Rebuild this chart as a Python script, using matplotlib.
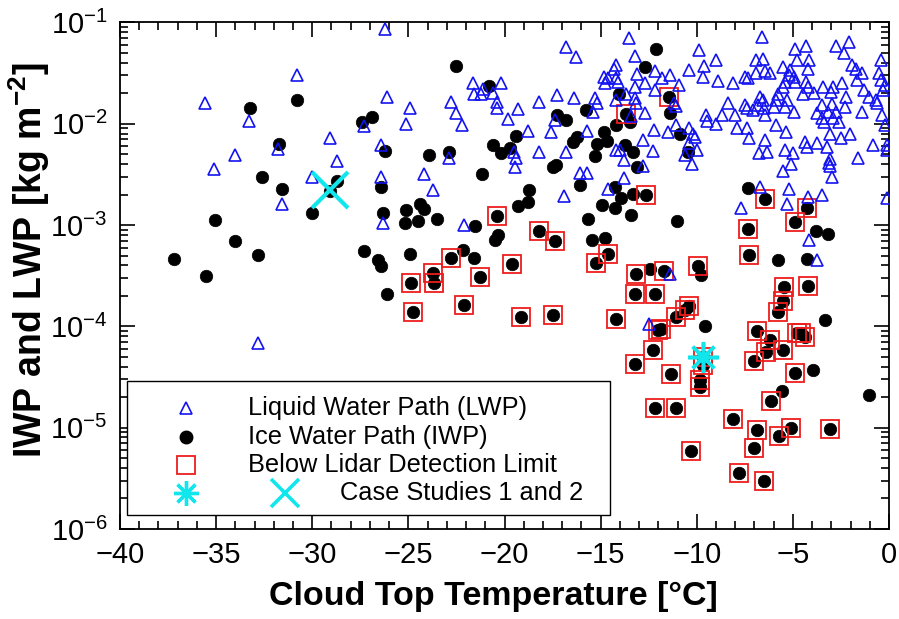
import matplotlib
matplotlib.use("Agg")
import matplotlib.pyplot as plt
from matplotlib.patches import Rectangle
from matplotlib.ticker import MultipleLocator, LogLocator, NullFormatter

# ---------------- data ----------------
# Liquid water path: cloud top temperature [degC] and LWP [kg m^-2]
lwp_temp = [
    -35.6, -30.8, -33.3, -34.0, -35.1, -31.8, -30.0, -31.6, -32.8,
    -26.2, -26.1, -24.9, -25.1, -27.3, -29.1, -26.4, -28.7, -26.4, -24.2,
    -23.7, -26.3, -22.1, -22.9, -22.8, -22.5, -22.2, -21.65, -21.6, -21.2,
    -21.1, -20.6, -20.2, -20.4, -20.4, -19.8,
    -13.5, -16.8, -16.3, -13.2, -9.9, -14.2, -14.3, -10.4, -13.1, -12.15,
    -14.8, -14.6, -14.2, -14.75, -14.1, -12.7, -13.2, -11.8, -11.4, -12.15,
    -10.9, -17.25, -16.4, -18.2, -15.3, -15.2, -14.2, -13.7, -13.2, -13.15,
    -11.2, -11.1, -19.3, -15.4, -13.4, -12.7, -17.4, -18.8, -17.6, -15.7,
    -12.2, -11.5, -11.1, -10.4, -10.1, -12.8, -10.4, -19.5, -19.4, -19.45,
    -18.2, -16.8, -14.2, -14.0, -13.8, -12.3, -10.6, -10.25, -10.0, -12.8,
    -16.05, -15.7, -13.8, -14.6, -16.9, -11.4, -12.5,
    -6.6, -9.0, -9.6, -9.7, -8.9, -8.1, -7.5, -7.35, -6.9, -6.55,
    -6.9, -6.45, -6.2, -5.5, -4.9, -4.3, -4.8, -4.15, -5.15, -4.2,
    -4.95, -5.2, -5.4, -4.9, -4.3, -2.75, -2.1, -2.35, -1.95, -1.7,
    -1.4, -1.65, -0.4, -0.5, -0.4, -0.2, -5.5, -5.75, -4.2, -4.5,
    -3.9, -3.45, -2.9, -3.0, -2.45, -2.25, -1.3, -1.05, -0.7, -0.6,
    -0.3, -6.7, -6.55, -6.8, -5.9, -5.3, -8.4, -7.5, -7.4, -7.05,
    -6.5, -6.0, -5.4, -4.95, -3.5, -2.95, -3.75, -3.2, -2.75, -2.3,
    -1.4, -3.5, -2.9, -2.6, -3.4, -9.5, -9.45, -8.7, -8.0, -9.0,
    -7.9, -7.4, -6.45, -5.9, -5.35, -3.05, -2.05, -2.5, -0.35, -0.2,
    -7.3, -6.45, -10.2, -6.35, -6.75, -5.4, -5.0, -4.35, -4.25, -3.75,
    -3.25, -0.85, -0.1, -0.1, -1.6, -3.05, -3.1, -3.05, -5.1, -5.5,
    -2.95, -6.7, -5.2, -4.2, -3.5, -5.3, -7.7, -0.1, -4.15, -3.75,
]
lwp_value = [
    1.6e-2, 3.0e-2, 1.06e-2, 4.9e-3, 3.6e-3, 5.6e-3, 3.0e-3, 1.6e-3, 6.8e-5,
    8.7e-2, 1.85e-2, 1.44e-2, 9.9e-3, 9.5e-3, 7.2e-3, 6.1e-3, 4.3e-3, 3.0e-3, 3.2e-3,
    2.2e-3, 1.05e-3, 1.0e-3, 4.6e-3, 1.65e-2, 1.28e-2, 9.7e-3, 2.5e-2, 1.95e-2, 1.95e-2,
    2.2e-2, 2.0e-2, 2.5e-2, 1.44e-2, 1.65e-2, 1.11e-2,
    7.0e-2, 5.7e-2, 4.6e-2, 4.7e-2, 5.4e-2, 3.8e-2, 3.5e-2, 3.4e-2, 3.1e-2, 3.3e-2,
    2.9e-2, 2.85e-2, 2.8e-2, 2.5e-2, 2.6e-2, 2.5e-2, 2.3e-2, 2.85e-2, 3.0e-2, 2.15e-2,
    2.4e-2, 1.9e-2, 1.8e-2, 1.65e-2, 1.8e-2, 1.6e-2, 1.7e-2, 1.95e-2, 1.8e-2, 1.6e-2,
    1.6e-2, 1.5e-2, 1.4e-2, 1.3e-2, 1.2e-2, 1.27e-2, 1.1e-2, 8.4e-3, 8.2e-3, 8.5e-3,
    8.7e-3, 8.3e-3, 9.7e-3, 9.1e-3, 7.4e-3, 6.9e-3, 6.4e-3, 5.3e-3, 4.6e-3, 3.7e-3,
    5.2e-3, 5.2e-3, 5.5e-3, 5.5e-3, 4.4e-3, 5.4e-3, 4.9e-3, 4.0e-3, 5.5e-3, 3.8e-3,
    3.3e-3, 3.3e-3, 2.9e-3, 2.25e-3, 1.95e-3, 3.3e-4, 1.05e-4,
    7.2e-2, 4.3e-2, 3.7e-2, 2.9e-2, 2.65e-2, 2.5e-2, 2.9e-2, 2.8e-2, 4.3e-2, 4.35e-2,
    3.15e-2, 3.3e-2, 3.15e-2, 3.65e-2, 5.5e-2, 5.85e-2, 4.3e-2, 4.3e-2, 3.4e-2, 3.45e-2,
    2.9e-2, 3.0e-2, 2.6e-2, 2.6e-2, 2.6e-2, 5.85e-2, 6.4e-2, 4.95e-2, 3.8e-2, 3.5e-2,
    3.15e-2, 2.7e-2, 4.3e-2, 3.15e-2, 2.7e-2, 2.4e-2, 2.3e-2, 1.95e-2, 2.3e-2, 1.95e-2,
    2.0e-2, 2.3e-2, 2.3e-2, 2.05e-2, 2.5e-2, 1.85e-2, 2.15e-2, 1.85e-2, 1.7e-2, 1.6e-2,
    2.15e-2, 1.85e-2, 1.7e-2, 1.53e-2, 1.7e-2, 1.7e-2, 1.6e-2, 1.53e-2, 1.42e-2, 1.37e-2,
    1.42e-2, 1.47e-2, 1.47e-2, 1.31e-2, 1.53e-2, 1.55e-2, 1.27e-2, 1.31e-2, 1.31e-2, 1.47e-2,
    1.31e-2, 1.13e-2, 1.13e-2, 1.05e-2, 1.05e-2, 1.22e-2, 1.06e-2, 1.22e-2, 1.22e-2, 1.0e-2,
    9.0e-3, 9.1e-3, 1.22e-2, 9.7e-3, 8.3e-3, 8.0e-3, 8.0e-3, 7.2e-3, 1.22e-2, 9.7e-3,
    7.2e-3, 6.9e-3, 7.9e-3, 5.3e-3, 5.1e-3, 5.5e-3, 5.1e-3, 6.6e-3, 5.9e-3, 6.4e-3,
    5.9e-3, 6.1e-3, 6.2e-3, 5.5e-3, 4.6e-3, 4.5e-3, 4.1e-3, 3.8e-3, 4.0e-3, 3.4e-3,
    3.0e-3, 2.4e-3, 2.25e-3, 1.9e-3, 2.0e-3, 1.6e-3, 1.46e-3, 1.84e-3, 7.1e-4, 4.5e-4,
]

# Ice water path: temperature [degC], IWP [kg m^-2], below-lidar-limit flag
iwp_temp = [
    -33.25, -30.8, -31.75, -32.6, -31.6, -30.0, -35.05, -34.0, -32.8, -37.2, -35.55,
    -22.5, -20.8, -27.4, -26.9, -26.2, -23.95, -22.9, -20.6, -20.2, -19.7,
    -21.15, -28.7, -29.1, -26.4, -26.3, -25.15, -25.2, -24.4, -24.2, -24.5,
    -23.5, -21.55, -20.4, -20.35, -20.5, -27.3, -26.6, -26.4, -24.9, -22.8,
    -22.15, -21.6, -23.7, -23.65, -24.85, -21.3, -22.1, -24.75, -26.1,
    -12.1, -12.7, -14.05, -11.45, -13.7, -13.45, -11.4, -17.25, -16.8, -15.75,
    -14.2, -19.4, -16.25, -16.45, -14.85, -15.2, -14.65, -13.75, -13.3, -15.3,
    -17.5, -17.3, -13.1, -10.85, -10.45, -16.05, -14.25, -13.95, -13.3, -12.65,
    -18.75, -19.3, -18.8, -14.95, -14.25, -13.4, -11.05, -15.65, -18.2, -17.35,
    -15.45, -14.75, -14.6, -15.25, -19.6, -13.15, -12.45, -11.7, -9.95, -13.2,
    -12.15, -19.15, -17.5, -14.2, -11.1, -10.6, -10.4, -12.0, -11.85, -12.3,
    -13.2, -11.35, -12.15, -11.1, -10.3,
    -7.35, -6.45, -4.25, -4.9, -3.8, -3.2, -7.35, -7.3, -5.8, -4.25,
    -9.8, -5.45, -4.2, -5.5, -5.75, -9.55, -3.35, -6.85, -6.2, -6.4,
    -5.5, -7.0, -4.8, -4.6, -4.35, -4.9, -3.95, -9.65, -9.85, -9.85,
    -5.55, -6.15, -1.05, -8.1, -6.85, -5.1, -5.7, -3.05, -7.0, -7.8,
    -6.5, -9.7,
]
iwp_value = [
    1.44e-2, 1.7e-2, 6.3e-3, 3.0e-3, 2.26e-3, 1.31e-3, 1.11e-3, 6.95e-4, 5.06e-4, 4.6e-4, 3.17e-4,
    3.7e-2, 2.37e-2, 1.04e-2, 1.16e-2, 5.4e-3, 4.9e-3, 5.2e-3, 6.2e-3, 5.1e-3, 5.7e-3,
    3.2e-3, 2.7e-3, 2.17e-3, 2.36e-3, 1.31e-3, 1.4e-3, 1.05e-3, 1.6e-3, 1.44e-3, 1.1e-3,
    1.16e-3, 9.8e-4, 1.22e-3, 8.0e-4, 7.1e-4, 5.6e-4, 4.5e-4, 3.9e-4, 5.2e-4, 4.75e-4,
    5.7e-4, 4.7e-4, 3.4e-4, 2.7e-4, 2.7e-4, 3.07e-4, 1.63e-4, 1.38e-4, 2.1e-4,
    5.5e-2, 3.6e-2, 1.97e-2, 1.85e-2, 1.24e-2, 1.03e-2, 1.28e-2, 1.22e-2, 1.08e-2, 1.37e-2,
    9.8e-3, 7.6e-3, 7.4e-3, 6.6e-3, 8.3e-3, 6.3e-3, 6.8e-3, 6.2e-3, 5.2e-3, 4.8e-3,
    3.7e-3, 3.9e-3, 3.7e-3, 8.0e-3, 5.3e-3, 2.5e-3, 2.4e-3, 1.87e-3, 2.04e-3, 1.97e-3,
    2.2e-3, 1.54e-3, 1.67e-3, 1.57e-3, 1.46e-3, 1.25e-3, 1.09e-3, 1.15e-3, 8.7e-4, 7.0e-4,
    7.1e-4, 7.4e-4, 5.2e-4, 4.2e-4, 4.1e-4, 3.3e-4, 3.7e-4, 3.5e-4, 3.9e-4, 2.1e-4,
    2.1e-4, 1.24e-4, 1.3e-4, 1.19e-4, 1.23e-4, 1.44e-4, 1.6e-4, 9.2e-5, 9.4e-5, 5.8e-5,
    4.25e-5, 3.36e-5, 1.57e-5, 1.56e-5, 5.9e-6,
    2.3e-3, 1.8e-3, 1.48e-3, 1.08e-3, 8.8e-4, 8.1e-4, 9.2e-4, 5.1e-4, 4.5e-4, 4.6e-4,
    3.2e-4, 2.45e-4, 2.5e-4, 1.77e-4, 1.39e-4, 1.01e-4, 1.15e-4, 9.0e-5, 7.4e-5, 5.6e-5,
    5.9e-5, 4.5e-5, 8.65e-5, 8.6e-5, 7.9e-5, 3.5e-5, 3.7e-5, 4.2e-5, 2.95e-5, 2.5e-5,
    2.3e-5, 1.84e-5, 2.1e-5, 1.21e-5, 9.5e-6, 1.0e-5, 8.3e-6, 9.75e-6, 6.25e-6, 3.6e-6,
    2.96e-6, 5.0e-5,
]
below_lidar = [
    0, 0, 0, 0, 0, 0, 0, 0, 0, 0, 0,
    0, 0, 0, 0, 0, 0, 0, 0, 0, 0,
    0, 0, 0, 0, 0, 0, 0, 0, 0, 0,
    0, 0, 1, 0, 0, 0, 0, 0, 0, 1,
    0, 0, 1, 1, 1, 1, 1, 1, 0,
    0, 0, 0, 1, 1, 0, 0, 0, 0, 0,
    0, 0, 0, 0, 0, 0, 0, 0, 0, 0,
    0, 0, 0, 0, 0, 0, 0, 0, 0, 1,
    0, 0, 0, 0, 0, 0, 0, 0, 1, 1,
    0, 0, 1, 1, 1, 1, 0, 1, 1, 1,
    1, 1, 1, 1, 1, 1, 1, 1, 1, 1,
    1, 1, 1, 1, 1,
    0, 1, 1, 1, 0, 0, 1, 1, 0, 0,
    0, 1, 1, 1, 1, 0, 0, 1, 1, 1,
    1, 1, 1, 1, 1, 1, 0, 1, 1, 1,
    0, 1, 0, 1, 1, 1, 1, 1, 1, 1,
    1, 1,
]

# Case studies 1 and 2
case_temp = [-9.7, -29.1]
case_value = [5.0e-5, 2.2e-3]

legend_labels = ["Liquid Water Path (LWP)", "Ice Water Path (IWP)",
                 "Below Lidar Detection Limit", "Case Studies 1 and 2"]

# ---------------- style ----------------
FONT = "Liberation Sans"
plt.rcParams["font.family"] = [FONT, "DejaVu Sans"]
plt.rcParams["mathtext.fontset"] = "custom"
plt.rcParams["mathtext.rm"] = FONT
plt.rcParams["mathtext.bf"] = FONT + ":bold"
plt.rcParams["mathtext.it"] = FONT + ":italic"

BLUE = "#1414F0"
RED = "#EE1C1C"
CYAN = "#10E6EC"

fig = plt.figure(figsize=(8.99, 6.19), dpi=100)
ax = fig.add_axes([0.1335, 0.1454, 0.8554, 0.8184])

# IWP circles
ax.plot(iwp_temp, iwp_value, linestyle="none", marker="o", ms=9,
        mfc="black", mec="black", mew=0.5, zorder=3)
# squares around IWP retrievals below the lidar limit
bl_t = [t for t, f in zip(iwp_temp, below_lidar) if f]
bl_v = [v for v, f in zip(iwp_value, below_lidar) if f]
ax.plot(bl_t, bl_v, linestyle="none", marker="s", ms=12.5,
        mfc="none", mec=RED, mew=1.3, zorder=4)
# LWP triangles
ax.plot(lwp_temp, lwp_value, linestyle="none", marker="^", ms=8.5,
        mfc="none", mec=BLUE, mew=1.2, zorder=5)
# case studies
ax.plot(case_temp[0], case_value[0], linestyle="none", marker=(8, 2, 0),
        ms=22, mec=CYAN, mew=2.6, zorder=6)
ax.plot(case_temp[1], case_value[1], linestyle="none", marker="x",
        ms=26, mec=CYAN, mew=3.0, zorder=6)

ax.set_xlim(-40, 0)
ax.set_yscale("log")
ax.set_ylim(1e-6, 1e-1)

ax.xaxis.set_major_locator(MultipleLocator(5))
ax.xaxis.set_minor_locator(MultipleLocator(1))
ax.yaxis.set_major_locator(LogLocator(base=10, numticks=10))
ax.yaxis.set_minor_locator(LogLocator(base=10, subs=range(2, 10), numticks=20))
ax.yaxis.set_minor_formatter(NullFormatter())

ax.tick_params(which="both", direction="in", top=True, right=True,
               width=1.2, colors="black")
ax.tick_params(which="major", length=11, labelsize=21, pad=9)
ax.tick_params(which="minor", length=6)
for sp in ax.spines.values():
    sp.set_linewidth(1.3)

ax.set_xlabel("Cloud Top Temperature [°C]", fontsize=24.5, fontweight="bold")
ax.xaxis.set_label_coords(0.486, -0.103)
ax.set_ylabel(r"IWP and LWP [kg m$^{\mathbf{-2}}$]", fontsize=27,
              fontweight="bold")
ax.yaxis.set_label_coords(-0.088, 0.53)

# legend box drawn in axes coordinates
tr = ax.transAxes
ax.add_patch(Rectangle((0.0091, 0.0276), 0.628, 0.2645, transform=tr,
                       facecolor="white", edgecolor="black", lw=1.0,
                       zorder=10))
rows = [0.239, 0.182, 0.126, 0.071]
mx = 0.0858
ax.plot([mx], [rows[0]], transform=tr, marker="^", ms=8.5, mfc="none",
        mec=BLUE, mew=1.2, linestyle="none", zorder=11, clip_on=False)
ax.plot([mx], [rows[1]], transform=tr, marker="o", ms=9, mfc="black",
        mec="black", linestyle="none", zorder=11, clip_on=False)
ax.plot([mx], [rows[2]], transform=tr, marker="s", ms=12.5, mfc="none",
        mec=RED, mew=1.3, linestyle="none", zorder=11, clip_on=False)
ax.plot([mx], [rows[3]], transform=tr, marker=(8, 2, 0), ms=18,
        mec=CYAN, mew=2.4, linestyle="none", zorder=11, clip_on=False)
ax.plot([0.2146], [rows[3]], transform=tr, marker="x", ms=20,
        mec=CYAN, mew=2.6, linestyle="none", zorder=11, clip_on=False)
text_x = [0.1664, 0.1664, 0.1664, 0.286]
for tx, ty, lab in zip(text_x, rows, legend_labels):
    ax.text(tx, ty, lab, transform=tr, fontsize=18.3, va="center",
            ha="left", zorder=11)

fig.savefig("out.png", dpi=100)
